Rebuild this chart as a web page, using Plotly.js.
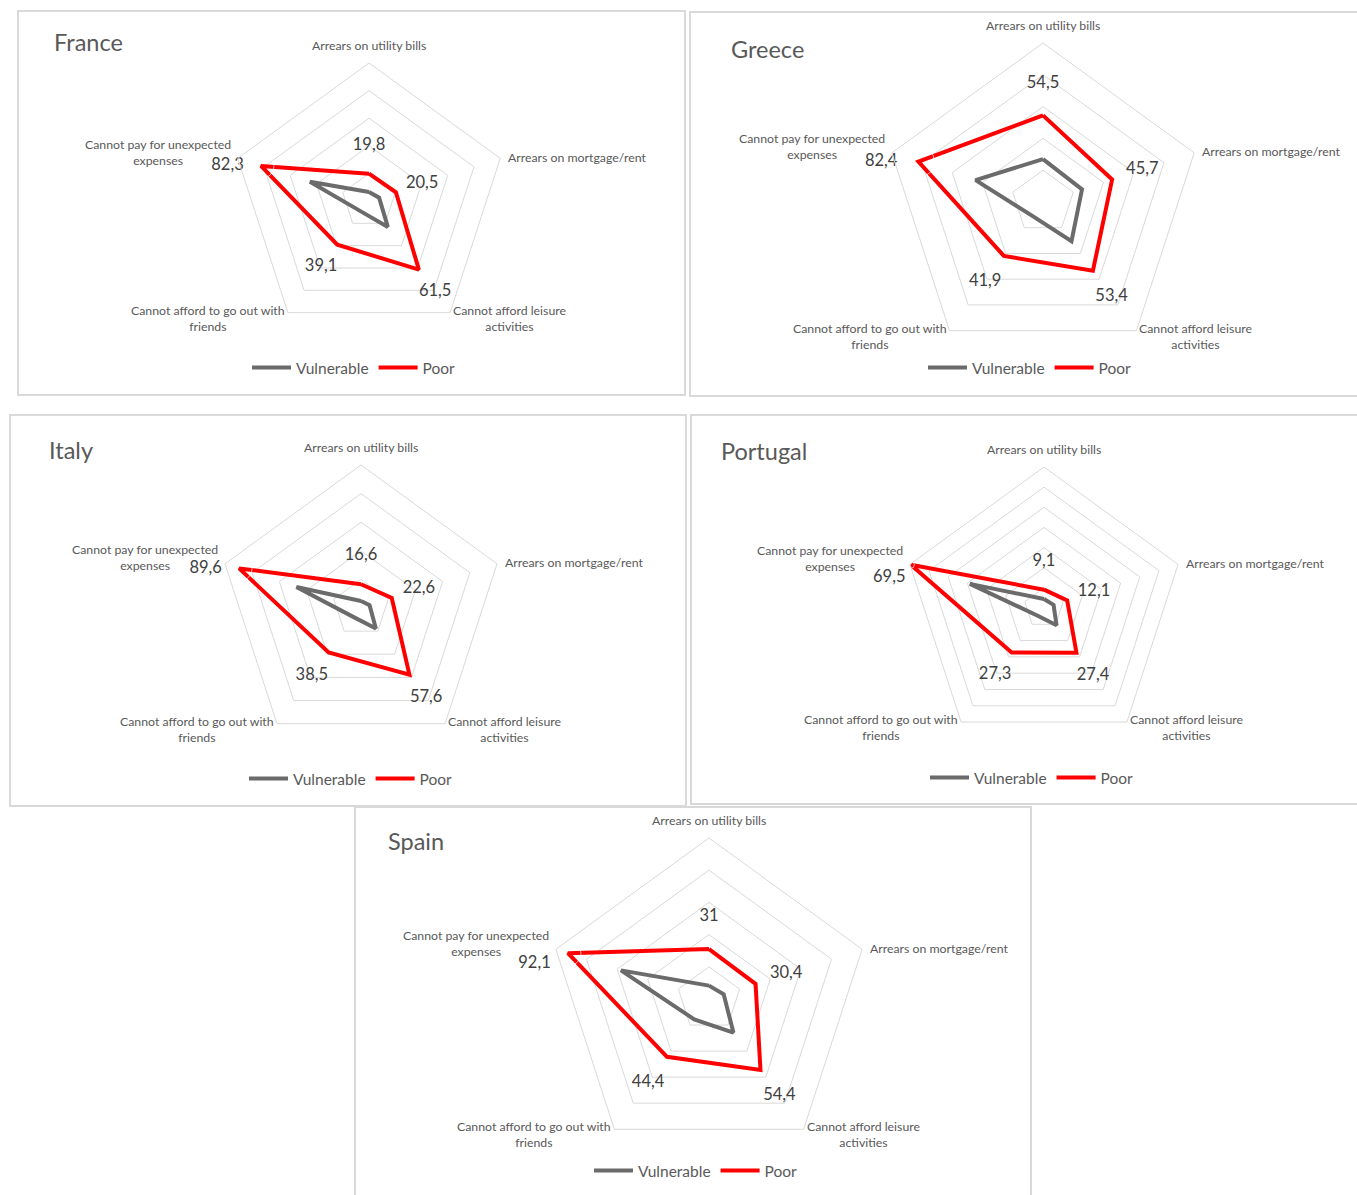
<!DOCTYPE html>
<html>
<head>
<meta charset="utf-8">
<script src="https://cdn.plot.ly/plotly-3.0.1.min.js"></script>
<style>
html, body { margin:0; padding:0; width:1357px; height:1195px; overflow:hidden; background:#ffffff; }
.panel { position:absolute; border:2px solid #d9d9d9; background:transparent; }
</style>
</head>
<body>
<div id="p0" class="panel"></div>
<div id="p1" class="panel"></div>
<div id="p2" class="panel"></div>
<div id="p3" class="panel"></div>
<div id="p4" class="panel"></div>
<script>
// ---- data ----
const categories = [
  'Arrears on utility bills',
  'Arrears on mortgage/rent',
  'Cannot afford leisure activities',
  'Cannot afford to go out with friends',
  'Cannot pay for unexpected expenses'
];
const categoryLabels = [
  'Arrears on utility bills',
  'Arrears on mortgage/rent',
  'Cannot afford leisure<br>activities',
  'Cannot afford to go out with<br>friends',
  'Cannot pay for unexpected<br>expenses'
];
const seriesNames = ['Vulnerable', 'Poor'];
const countries = ['France', 'Greece', 'Italy', 'Portugal', 'Spain'];

const franceVulnerable   = [6.5, 7.7, 23.2, 9.5, 45.0];
const francePoor         = [19.8, 20.5, 61.5, 39.1, 82.3];
const greeceVulnerable   = [27.0, 25.8, 30.5, 11.0, 44.6];
const greecePoor         = [54.5, 45.7, 53.4, 41.9, 82.4];
const italyVulnerable    = [4.9, 6.3, 17.7, 8.1, 47.5];
const italyPoor          = [16.6, 22.6, 57.6, 38.5, 89.6];
const portugalVulnerable = [4.5, 5.0, 10.6, 4.9, 38.7];
const portugalPoor       = [9.1, 12.1, 27.4, 27.3, 69.5];
const spainVulnerable    = [8.3, 9.6, 25.8, 15.6, 57.5];
const spainPoor          = [31, 30.4, 54.4, 44.4, 92.1];

const radialMax  = [100, 100, 100, 70, 100];
const radialStep = [20, 20, 20, 10, 20];

// ---- layout of panels (page pixels) ----
const panels = [
  {left:17,  top:10,  w:669, h:386, cx:369,  cy:201, R:138, tx:54,  ty:43,  lx:354,  ly:368, lp:'middle left', ls:26, lb:false},
  {left:689, top:11,  w:680, h:386, cx:1043, cy:202, R:159, tx:731, ty:50,  lx:1030, ly:368, lp:'middle left', ls:32, lb:false},
  {left:9,   top:414, w:678, h:393, cx:361,  cy:608, R:143, tx:49,  ty:451, lx:351,  ly:779, lp:'middle left', ls:26, lb:false},
  {left:690, top:414, w:680, h:391, cx:1044, cy:608, R:141, tx:721, ty:452, lx:1032, ly:778, lp:'bottom left', ls:7,  lb:false},
  {left:354, top:806, w:678, h:400, cx:709,  cy:999, R:161, tx:388, ty:842, lx:696,  ly:1171, lp:'middle left', ls:26, lb:true}
];

// placement of the category labels around each vertex
const labelPlacement = [
  {xanchor:'center', yanchor:'bottom', xshift:0,  yshift:8},
  {xanchor:'left',   yanchor:'middle', xshift:6,  yshift:1},
  {xanchor:'left',   yanchor:'top',    xshift:1,  yshift:12},
  {xanchor:'right',  yanchor:'top',    xshift:-1, yshift:12},
  {xanchor:'right',  yanchor:'middle', xshift:-5, yshift:6}
];

const vulnerableSets = [franceVulnerable, greeceVulnerable, italyVulnerable, portugalVulnerable, spainVulnerable];
const poorSets = [francePoor, greecePoor, italyPoor, portugalPoor, spainPoor];

const FONT = 'Lato, "Open Sans", "Liberation Sans", sans-serif';
const closeLoop = a => a.concat([a[0]]);
const fmt = v => String(v).replace('.', ',');

panels.forEach((p, i) => {
  const B = 2;
  const W = p.w - 2 * B, H = p.h - 2 * B;
  const el = document.getElementById('p' + i);
  el.style.left = p.left + 'px';
  el.style.top = p.top + 'px';
  el.style.width = W + 'px';
  el.style.height = H + 'px';

  const cx = p.cx - p.left - B, cy = p.cy - p.top - B;
  const max = radialMax[i];
  const last = categories.length - 1;

  const traces = [
    {
      type: 'scatterpolar', mode: 'lines', name: seriesNames[0],
      r: closeLoop(vulnerableSets[i]), theta: closeLoop(categories),
      line: {color: '#6b6b6b', width: 4}, hoverinfo: 'skip'
    },
    {
      type: 'scatterpolar', mode: 'lines', name: seriesNames[1],
      r: closeLoop(poorSets[i]), theta: closeLoop(categories),
      line: {color: '#ff0000', width: 4}, hoverinfo: 'skip'
    },
    {
      type: 'scatterpolar', mode: 'markers+text', showlegend: false,
      r: poorSets[i].map((v, k) => k === last ? v : v + 0.2 * max),
      theta: categories,
      text: poorSets[i].map((v, k) => (k === last && p.lb ? '<br>' : '') + fmt(v)),
      textposition: poorSets[i].map((v, k) => k === last ? p.lp : 'middle center'),
      marker: {size: poorSets[i].map((v, k) => k === last ? p.ls : 0), color: 'rgba(0,0,0,0)'},
      textfont: {family: FONT, size: 16.5, color: '#404040'},
      cliponaxis: false, hoverinfo: 'skip'
    }
  ];

  // category labels next to each vertex of the outer polygon
  const annotations = categoryLabels.map((txt, k) => {
    const a = (90 - 72 * k) * Math.PI / 180;
    const vx = cx + p.R * Math.cos(a), vy = cy - p.R * Math.sin(a);
    const pl = labelPlacement[k];
    return {
      text: txt, showarrow: false, align: 'center',
      xref: 'paper', yref: 'paper', x: vx / W, y: 1 - vy / H,
      xanchor: pl.xanchor, yanchor: pl.yanchor, xshift: pl.xshift, yshift: pl.yshift,
      font: {family: FONT, size: 12.3, color: '#595959'}
    };
  });

  const layout = {
    width: W, height: H,
    margin: {l: 0, r: 0, t: 0, b: 0},
    paper_bgcolor: 'rgba(0,0,0,0)',
    font: {family: FONT, color: '#595959'},
    title: {
      text: countries[i], xref: 'container', yref: 'container',
      x: (p.tx - p.left - B) / W, xanchor: 'left',
      y: 1 - (p.ty - p.top - B) / H, yanchor: 'middle',
      font: {family: FONT, size: 23.5, color: '#595959'}
    },
    showlegend: true,
    legend: {
      orientation: 'h', x: (p.lx - p.left - B) / W, xanchor: 'center',
      y: 1 - (p.ly - p.top - B) / H, yanchor: 'middle',
      font: {family: FONT, size: 15.5, color: '#595959'},
      itemwidth: 39,
      bgcolor: 'rgba(0,0,0,0)'
    },
    annotations: annotations,
    polar: {
      domain: {
        x: [(cx - p.R) / W, (cx + p.R) / W],
        y: [1 - (cy + p.R) / H, 1 - (cy - p.R) / H]
      },
      gridshape: 'linear',
      bgcolor: 'rgba(0,0,0,0)',
      angularaxis: {
        type: 'category', categoryorder: 'array', categoryarray: categories,
        rotation: 90, direction: 'clockwise',
        showgrid: false, showline: true, linecolor: '#d9d9d9', linewidth: 1,
        ticks: '', showticklabels: false
      },
      radialaxis: {
        range: [0, max], dtick: radialStep[i], tick0: 0,
        showticklabels: false, ticks: '', showline: false,
        gridcolor: '#d9d9d9', gridwidth: 1
      }
    }
  };

  Plotly.newPlot(el, traces, layout, {displayModeBar: false, staticPlot: true});
});
</script>
</body>
</html>
